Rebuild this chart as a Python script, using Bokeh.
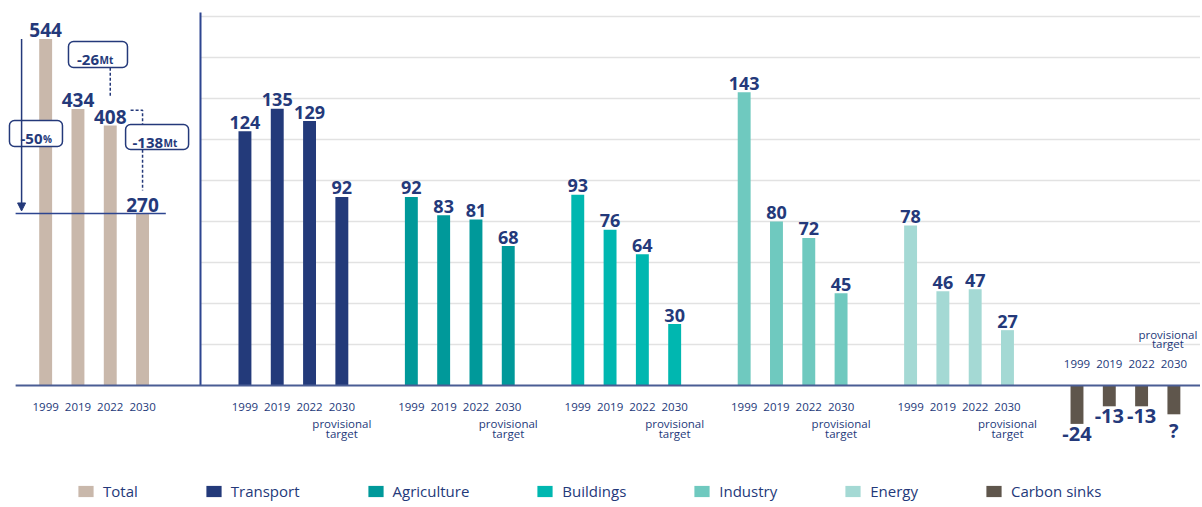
from bokeh.plotting import figure
from bokeh.models import Range1d, Legend, LegendItem, Arrow, NormalHead
from bokeh.core.properties import value
from bokeh.embed import file_html
from bokeh.resources import INLINE

# ---------------- data ----------------
years = ["1999", "2019", "2022", "2030"]
total = [544, 434, 408, 270]
transport = [124, 135, 129, 92]
agriculture = [92, 83, 81, 68]
buildings = [93, 76, 64, 30]
industry = [143, 80, 72, 45]
energy = [78, 46, 47, 27]
carbon_sinks = [-24, -13, -13, -18]          # 2030 value unknown, bar height estimated
carbon_sink_labels = ["-24", "-13", "-13", "?"]
target_note = ["provisional", "target"]
legend_names = ["Total", "Transport", "Agriculture", "Buildings", "Industry", "Energy", "Carbon sinks"]

# ---------------- style ----------------
NAVY = "#24397a"
FONT_NAME = "Open Sans"
FONT = value(FONT_NAME)
COLORS = ["#c9b8ab", "#233a7a", "#00999a", "#00b7b0", "#6fc9bf", "#a4d9d4", "#5f564c"]

W, H = 1200, 505
XPX = 32.3                  # px per x unit
X0 = -7.568
X1 = X0 + W / XPX
BASE = 385                  # baseline, px from top
S_MAIN, S_TOT, S_SINK = 2.05, 0.637, 1.6

p = figure(width=W, height=H, output_backend="svg", toolbar_location=None,
           x_axis_location=None, y_axis_location=None,
           x_range=Range1d(X0, X1),
           y_range=Range1d(-(H - BASE) / S_MAIN, BASE / S_MAIN),
           min_border=0)
p.min_border_left = p.min_border_right = p.min_border_top = p.min_border_bottom = 0
p.outline_line_color = None
p.grid.visible = False
p.extra_y_ranges = {
    "total": Range1d(-(H - BASE) / S_TOT, BASE / S_TOT),
    "sinks": Range1d(-(H - BASE) / S_SINK, BASE / S_SINK),
}

GROUP_STEP = 5.152
BAR_W = 0.4
tot_x = [-6.17 + i for i in range(4)]
groups = [transport, agriculture, buildings, industry, energy, carbon_sinks]
gxs = [[g * GROUP_STEP + i for i in range(4)] for g in range(len(groups))]

axis_x = -1.376
left_x = tot_x[0] - 0.93

# gridlines and axes
grid_vals = list(range(20, 181, 20))
p.segment(x0=[axis_x] * len(grid_vals), x1=[X1] * len(grid_vals), y0=grid_vals, y1=grid_vals,
          line_color="#e2e2e2", line_width=1.5)
p.segment(x0=[axis_x], y0=[0], x1=[axis_x], y1=[182], line_color="#2d4590", line_width=2)

# bars
renderers = []
r = p.vbar(x=tot_x, top=total, width=BAR_W, fill_color=COLORS[0], line_color=None, y_range_name="total")
renderers.append(r)
for g, vals in enumerate(groups):
    kw = {"y_range_name": "sinks"} if g == 5 else {}
    r = p.vbar(x=gxs[g], top=vals, bottom=0, width=BAR_W, fill_color=COLORS[g + 1], line_color=None, **kw)
    renderers.append(r)

# baseline
p.segment(x0=[left_x], y0=[0], x1=[X1], y1=[0], line_color="#4a5d94", line_width=2)
# 2030 total level line
p.segment(x0=[left_x], y0=[total[3]], x1=[tot_x[3] + 0.72], y1=[total[3]],
          line_color="#2d4590", line_width=1.5, y_range_name="total")

# value labels
p.text(x=tot_x, y=total, text=[str(v) for v in total], y_range_name="total",
       text_align="center", text_baseline="alphabetic", y_offset=-9,
       text_font=FONT, text_font_style="bold", text_font_size="19px", text_color=NAVY)
for g in range(5):
    p.text(x=gxs[g], y=groups[g], text=[str(v) for v in groups[g]],
           text_align="center", text_baseline="alphabetic", y_offset=-9,
           text_font=FONT, text_font_style="bold", text_font_size="18px", text_color=NAVY)
p.text(x=gxs[5], y=carbon_sinks, text=carbon_sink_labels, y_range_name="sinks",
       text_align="center", text_baseline="top", y_offset=3,
       text_font=FONT, text_font_style="bold", text_font_size="20px", text_color=NAVY)

# year tick labels
tick_kw = dict(text_align="center", text_baseline="middle", text_font=FONT,
               text_font_size="11.5px", text_color=NAVY)
p.text(x=tot_x, y=[0] * 4, text=years, y_offset=21, **tick_kw)
for g in range(5):
    p.text(x=gxs[g], y=[0] * 4, text=years, y_offset=21, **tick_kw)
    p.text(x=[gxs[g][3]] * 2, y=[0, 0], text=target_note, y_offset=[38, 48], **tick_kw)
p.text(x=gxs[5], y=[0] * 4, text=years, y_offset=-22, **tick_kw)
p.text(x=[gxs[5][3]] * 2, y=[0, 0], text=target_note, y_offset=[-51, -42], x_offset=-6, **tick_kw)

# -50% arrow
arrow_x = tot_x[0] - 0.745
p.add_layout(Arrow(end=NormalHead(size=8, fill_color=NAVY, line_color=NAVY, line_width=1),
                   x_start=arrow_x, y_start=total[0], x_end=arrow_x, y_end=total[3] + 4,
                   line_color=NAVY, line_width=1.5, y_range_name="total"))

# dashed connectors
dash_kw = dict(line_color=NAVY, line_width=1.5, line_dash="3 2", y_range_name="total")
p.line(x=[tot_x[2], tot_x[2]], y=[499, 455], **dash_kw)
p.line(x=[tot_x[2] + 0.63, tot_x[3], tot_x[3]], y=[432, 432, 410], **dash_kw)
p.line(x=[tot_x[3], tot_x[3]], y=[370, 306], **dash_kw)

# boxes
pct = round((total[3] / total[0] - 1) * 100)
d1 = total[2] - total[1]
d2 = total[3] - total[2]
boxes = [  # (x, y, w, h, main, small, split offset)
    (tot_x[0] - 0.30, 395.6, 53, 26, str(pct), "%", 6.5),
    (tot_x[2] - 0.38, 519.6, 59, 26, str(d1), "Mt", 1),
    (tot_x[3] + 0.45, 390.1, 63, 25, str(d2), "Mt", 6),
]
for bx, by, bw, bh, main, small, off in boxes:
    p.rect(x=[bx], y=[by], width=bw, height=bh, width_units="screen", height_units="screen",
           fill_color="white", line_color=NAVY, line_width=1.5, border_radius=5,
           y_range_name="total")
    p.text(x=[bx], y=[by], text=[main], x_offset=off, y_offset=5.5, y_range_name="total",
           text_align="right", text_baseline="alphabetic", text_font=FONT,
           text_font_style="bold", text_font_size="15px", text_color=NAVY)
    p.text(x=[bx], y=[by], text=[small], x_offset=off + 0.5, y_offset=5.5, y_range_name="total",
           text_align="left", text_baseline="alphabetic", text_font=FONT,
           text_font_style="bold", text_font_size="10px", text_color=NAVY)

# legend
legend = Legend(items=[LegendItem(label=n, renderers=[r]) for n, r in zip(legend_names, renderers)],
                orientation="horizontal", location=(76, 4), glyph_width=19, glyph_height=14,
                label_standoff=8, spacing=66, padding=0, margin=0, label_height=14,
                background_fill_alpha=0, border_line_alpha=0,
                label_text_font=FONT_NAME, label_text_font_size="15px", label_text_color=NAVY)
p.add_layout(legend)

open("out.html", "w").write(file_html(p, INLINE))
